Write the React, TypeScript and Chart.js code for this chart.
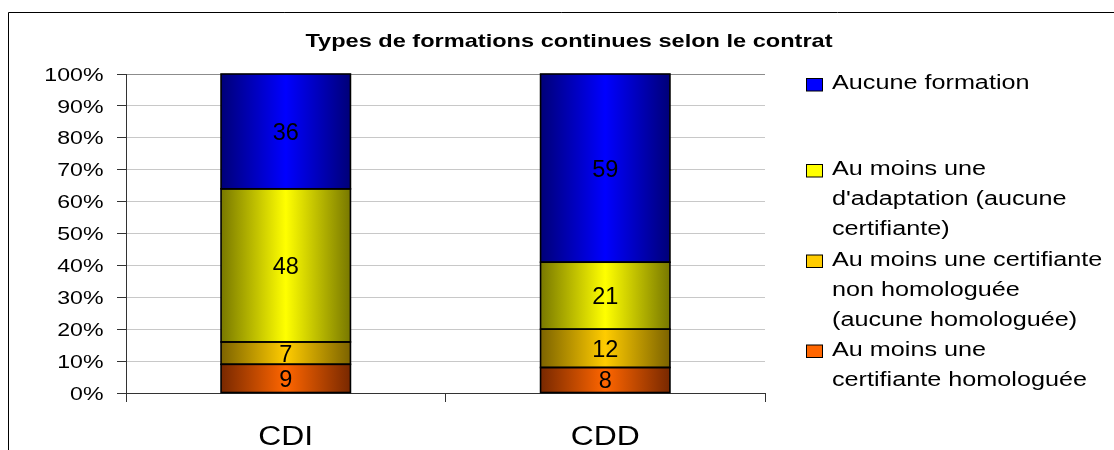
import React, { useEffect, useRef } from 'react';
import { Chart, registerables } from 'chart.js';

Chart.register(...registerables);

// ---- Data ----
const categories = ['CDI', 'CDD'];
const homologuee = [9, 8];
const nonHomologuee = [7, 12];
const adaptation = [48, 21];
const aucune = [36, 59];
const yTickLabels = ['0%', '10%', '20%', '30%', '40%', '50%', '60%', '70%', '80%', '90%', '100%'];
const chartTitle = 'Types de formations continues selon le contrat';
const seriesNames = [
  'Au moins une certifiante homologuée',
  'Au moins une certifiante non homologuée (aucune homologuée)',
  "Au moins une d'adaptation (aucune certifiante)",
  'Aucune formation',
];
// legend text as wrapped in the reference (top to bottom)
const legendLines = [
  ['Aucune formation'],
  ['Au moins une', "d'adaptation (aucune", 'certifiante)'],
  ['Au moins une certifiante', 'non homologuée', '(aucune homologuée)'],
  ['Au moins une', 'certifiante homologuée'],
];

// ---- Styles ----
const FONT = '"Liberation Sans", Arial, sans-serif';
const BAR_PCT = 0.405;
const colors = [
  { edge: '#782800', center: '#ff6600' },
  { edge: '#7c6300', center: '#ffcc00' },
  { edge: '#787800', center: '#ffff00' },
  { edge: '#000078', center: '#0000ff' },
];
const legendBaselines = [[89], [175, 205, 235], [265.5, 295.5, 325.5], [355.5, 385.5]];

function stretchedText(ctx: CanvasRenderingContext2D, text: string, x: number, y: number, font: string, sx: number, align: CanvasTextAlign) {
  ctx.save();
  ctx.font = font;
  ctx.fillStyle = '#000';
  ctx.textAlign = align;
  ctx.textBaseline = 'alphabetic';
  ctx.translate(x, y);
  ctx.scale(sx, 1);
  ctx.fillText(text, 0, 0);
  ctx.restore();
}

function gradFill(idx: number) {
  return (c: any) => {
    const chart = c.chart;
    const xs = chart.scales && chart.scales.x;
    if (!xs || c.dataIndex === undefined || !chart.chartArea) return colors[idx].center;
    const cx = xs.getPixelForValue(c.dataIndex);
    const w = ((chart.chartArea.right - chart.chartArea.left) / categories.length) * BAR_PCT;
    const g = chart.ctx.createLinearGradient(cx - w / 2, 0, cx + w / 2, 0);
    g.addColorStop(0, colors[idx].edge);
    g.addColorStop(0.5, colors[idx].center);
    g.addColorStop(1, colors[idx].edge);
    return g;
  };
}

const decorPlugin = {
  id: 'decor',
  beforeDraw(chart: any) {
    const ctx = chart.ctx as CanvasRenderingContext2D;
    ctx.save();
    ctx.fillStyle = '#fff';
    ctx.fillRect(0, 0, chart.width, chart.height);
    ctx.strokeStyle = '#000';
    ctx.lineWidth = 1;
    ctx.beginPath();
    ctx.moveTo(8.5, chart.height);
    ctx.lineTo(8.5, 12.5);
    ctx.lineTo(chart.width, 12.5);
    ctx.stroke();
    ctx.restore();
  },
  afterDatasetsDraw(chart: any) {
    const ctx = chart.ctx as CanvasRenderingContext2D;
    ctx.save();
    ctx.strokeStyle = '#000';
    ctx.lineWidth = 1.6;
    chart.data.datasets.forEach((_ds: any, di: number) => {
      const meta = chart.getDatasetMeta(di);
      meta.data.forEach((el: any) => {
        const p = el.getProps(['x', 'y', 'base', 'width'], true);
        const top = Math.min(p.y, p.base);
        const h = Math.abs(p.base - p.y);
        ctx.strokeRect(p.x - p.width / 2, top, p.width, h);
      });
    });
    ctx.restore();
  },
  afterDraw(chart: any) {
    const ctx = chart.ctx as CanvasRenderingContext2D;
    // title
    stretchedText(ctx, chartTitle, 569, 47, `bold 19px ${FONT}`, 1.24, 'center');
    // y tick labels
    const ys = chart.scales.y;
    ys.ticks.forEach((t: any) => {
      const py = ys.getPixelForValue(t.value);
      stretchedText(ctx, String(t.label), 103.5, py + 6.6, `18.5px ${FONT}`, 1.25, 'right');
    });
    // x category labels
    const xs = chart.scales.x;
    categories.forEach((lab, i) => {
      stretchedText(ctx, lab, xs.getPixelForValue(i), 445, `27px ${FONT}`, 1.18, 'center');
    });
    // data labels
    chart.data.datasets.forEach((ds: any, di: number) => {
      const meta = chart.getDatasetMeta(di);
      meta.data.forEach((el: any, i: number) => {
        const cy = (el.y + el.base) / 2;
        stretchedText(ctx, String(ds.data[i]), el.x, cy + 8.5, `23.5px ${FONT}`, 1.0, 'center');
      });
    });
    // legend
    const order = [3, 2, 1, 0];
    order.forEach((si, k) => {
      const lines = legendLines[k];
      const bls = legendBaselines[k];
      const bx = 806.5, by = bls[0] - 10.5, bw = 16, bh = 12.5;
      ctx.save();
      ctx.fillStyle = colors[si].center;
      ctx.fillRect(bx, by, bw, bh);
      ctx.strokeStyle = '#000';
      ctx.lineWidth = 1;
      ctx.strokeRect(bx, by, bw, bh);
      ctx.restore();
      lines.forEach((ln, j) => {
        stretchedText(ctx, ln, 832, bls[j], `20px ${FONT}`, 1.26, 'left');
      });
    });
  },
};

export default function App() {
  const ref = useRef<HTMLCanvasElement | null>(null);
  useEffect(() => {
    if (!ref.current) return;
    const data = {
      labels: categories,
      datasets: [homologuee, nonHomologuee, adaptation, aucune].map((vals, i) => ({
        label: seriesNames[i],
        data: vals,
        backgroundColor: gradFill(i),
        borderWidth: 0,
        inflateAmount: 0,
        barPercentage: BAR_PCT,
        categoryPercentage: 1,
      })),
    };
    const chart = new Chart(ref.current, {
      type: 'bar',
      data: data as any,
      plugins: [decorPlugin],
      options: {
        animation: false,
        responsive: true,
        maintainAspectRatio: false,
        events: [],
        layout: { padding: { left: 0, right: 349, top: 74, bottom: 0 } },
        plugins: {
          legend: { display: false },
          title: { display: false },
          tooltip: { enabled: false },
        },
        scales: {
          x: {
            stacked: true,
            offset: true,
            afterFit: (s: any) => { s.height = 57; },
            ticks: { display: false },
            grid: {
              offset: true,
              drawTicks: true,
              tickLength: 9,
              tickColor: '#333',
              color: (c: any) => (c.index === categories.length ? '#c0c0c0' : 'rgba(0,0,0,0)'),
              lineWidth: 1,
            },
            border: { display: true, color: '#333', width: 1 },
          },
          y: {
            stacked: true,
            min: 0,
            max: 100,
            afterFit: (s: any) => { s.width = 126; },
            ticks: {
              display: false,
              stepSize: 10,
              callback: (v: any) => yTickLabels[Math.round(Number(v) / 10)],
            },
            grid: {
              drawTicks: true,
              tickLength: 9,
              tickColor: '#333',
              color: (c: any) => (c.tick && c.tick.value === 100 ? '#8c8c8c' : '#c8c8c8'),
              lineWidth: 1,
            },
            border: { display: true, color: '#333', width: 1 },
          },
        },
      } as any,
    });
    return () => chart.destroy();
  }, []);
  return (
    <div style={{ position: 'fixed', left: 0, top: 0, width: 1114, height: 450, background: '#fff' }}>
      <canvas ref={ref} />
    </div>
  );
}
